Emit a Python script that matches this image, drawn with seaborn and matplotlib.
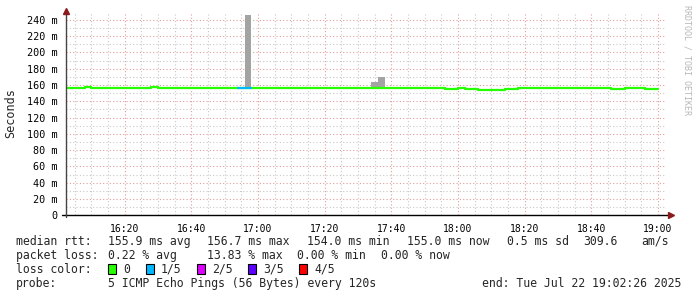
import matplotlib
matplotlib.use("Agg")
import matplotlib.pyplot as plt
import matplotlib.dates as mdates
import matplotlib.ticker as mticker
from matplotlib.patches import Rectangle
import seaborn as sns
import pandas as pd

# ---------------- data ----------------
DAY = "2025-07-22 "
chart_start = "16:02:26"
chart_end = "19:02:26"

# median rtt (ms), step function: each value holds until the next breakpoint
step_times = ["16:02", "16:08", "16:10", "16:28", "16:30", "16:54", "16:58", "17:56",
              "18:00", "18:02", "18:06", "18:14", "18:16", "18:18", "18:46", "18:50",
              "18:56", "19:00"]
median_ms = [155.9, 157.1, 155.9, 157.1, 155.9, 155.9, 155.9, 155.0,
             155.9, 155.0, 154.0, 154.6, 155.3, 155.9, 155.0, 155.9,
             155.0, 155.0]
loss_idx = [0, 0, 0, 0, 0, 1, 0, 0,
            0, 0, 0, 0, 0, 0, 0, 0,
            0, 0]

# smoke (ping spread) visible above median, 2-minute steps
smoke_start = ["16:10", "16:56", "17:34", "17:36", "18:42"]
smoke_low = [155.9, 155.9, 155.9, 155.9, 155.9]
smoke_high = [158.0, 246.0, 164.0, 170.0, 157.8]

loss_labels = ["0", "1/5", "2/5", "3/5", "4/5"]
loss_colors = ["#26ff00", "#00b8ff", "#dd00ff", "#5e00ff", "#ff0000"]

y_ticks = [0, 20, 40, 60, 80, 100, 120, 140, 160, 180, 200, 220, 240]

row1 = [("median rtt:", 16), ("155.9 ms avg", 108), ("156.7 ms max", 207),
        ("154.0 ms min", 307), ("155.0 ms now", 407), ("0.5 ms sd", 507),
        ("309.6", 583), ("am/s", 641)]
row2 = [("packet loss:", 16), ("0.22 % avg", 108), ("13.83 % max", 207),
        ("0.00 % min", 297), ("0.00 % now", 381)]
probe_text = "5 ICMP Echo Pings (56 Bytes) every 120s"
end_text = "end: Tue Jul 22 19:02:26 2025"

# ---------------- figure ----------------
W, H = 697, 297
sns.set_theme(style="white")
plt.rcParams["font.family"] = ["DejaVu Sans Mono", "DejaVu Sans"]
fig = plt.figure(figsize=(W / 100, H / 100), dpi=100, facecolor="white")

L, R, T, B = 66, 666, 13, 215.3
ax = fig.add_axes([L / W, 1 - B / H, (R - L) / W, (B - T) / H])
ax.set_facecolor("white")

t = lambda s: pd.Timestamp(DAY + s)
df = pd.DataFrame({"time": [t(s) for s in step_times], "rtt": median_ms, "loss": loss_idx})

# smoke bars
ax.bar([t(s) for s in smoke_start],
       [h - l for h, l in zip(smoke_high, smoke_low)],
       bottom=smoke_low, width=pd.Timedelta(minutes=2), align="edge",
       color="#a3a3a3", linewidth=0, zorder=2)

# median line (green), then loss-colored segments
sns.lineplot(data=df, x="time", y="rtt", drawstyle="steps-post", color=loss_colors[0],
             linewidth=1.6, estimator=None, ax=ax, zorder=3)
for i in range(len(df) - 1):
    if df.loc[i, "loss"] > 0:
        seg = df.iloc[[i, i + 1]].copy()
        seg.loc[seg.index[1], "rtt"] = seg.loc[seg.index[0], "rtt"]
        sns.lineplot(data=seg, x="time", y="rtt", drawstyle="steps-post",
                     color=loss_colors[df.loc[i, "loss"]], linewidth=1.6,
                     estimator=None, ax=ax, zorder=4)

ax.set_xlim(t(chart_start), t(chart_end))
ax.set_ylim(0, 248.5)
ax.set_xlabel("")
ax.set_ylabel("")

ax.xaxis.set_major_locator(mdates.MinuteLocator(byminute=[0, 20, 40]))
ax.xaxis.set_minor_locator(mdates.MinuteLocator(byminute=range(0, 60, 5)))
ax.xaxis.set_major_formatter(mdates.DateFormatter("%H:%M"))
ax.set_yticks(y_ticks)
ax.yaxis.set_minor_locator(mticker.MultipleLocator(10))
ax.yaxis.set_major_formatter(mticker.FuncFormatter(lambda v, p: "0" if v == 0 else f"{int(v)} m"))

dot = (0, (1, 2))
ax.grid(which="minor", color="#c8c8c8", linestyle=dot, linewidth=0.8)
ax.grid(which="major", color="#e39c9c", linestyle=dot, linewidth=0.8)
ax.set_axisbelow(True)

for s in ax.spines.values():
    s.set_visible(False)
ax.tick_params(axis="both", which="both", colors="black", labelcolor="black")
ax.tick_params(axis="x", which="major", length=3, width=0.7, pad=3, labelsize=7)
ax.tick_params(axis="x", which="minor", length=2, width=0.7)
ax.tick_params(axis="y", which="major", length=3, width=0.7, pad=3, labelsize=7.3)
ax.tick_params(axis="y", which="minor", length=0)

# axis lines with arrows
ax.plot([-0.007, 1.006], [0, 0], transform=ax.transAxes, color="black", lw=1, clip_on=False, zorder=5)
ax.plot([0, 0], [-0.01, 1.01], transform=ax.transAxes, color="#444444", lw=1, clip_on=False, zorder=5)
ax.plot([1.008], [0], transform=ax.transAxes, marker=">", color="#8b1a1a", ms=4, clip_on=False, zorder=6)
ax.plot([0], [1.012], transform=ax.transAxes, marker="^", color="#8b1a1a", ms=4, clip_on=False, zorder=6)

# y label
fig.text(11 / W, 1 - 113 / H, "Seconds", rotation=90, ha="center", va="center", fontsize=8.5)
# watermark
fig.text(687 / W, 1 - 5 / H, "RRDTOOL / TOBI OETIKER", rotation=-90, ha="center", va="top",
         fontsize=6, color="#b8b8b8")

# legend/comment rows (baseline-aligned)
fs = 8.3
def put(txt, x, y, ha="left", **kw):
    fig.text(x / W, 1 - (y + 4) / H, txt, ha=ha, va="baseline", fontsize=fs, **kw)

for txt, x in row1:
    put(txt, x, 241)
for txt, x in row2:
    put(txt, x, 255)
put("loss color:", 16, 269)
box_x = [108, 146, 197, 248, 299]
for lab, col, bx in zip(loss_labels, loss_colors, box_x):
    fig.patches.append(Rectangle((bx / W, 1 - 274 / H), 8 / W, 10 / H, transform=fig.transFigure,
                                 facecolor=col, edgecolor="black", linewidth=0.8))
    put(lab, bx + 15, 269)
put("probe:", 16, 283)
put(probe_text, 108, 283)
put(end_text, 681, 283, ha="right")

fig.savefig("out.png", dpi=100, facecolor="white")
